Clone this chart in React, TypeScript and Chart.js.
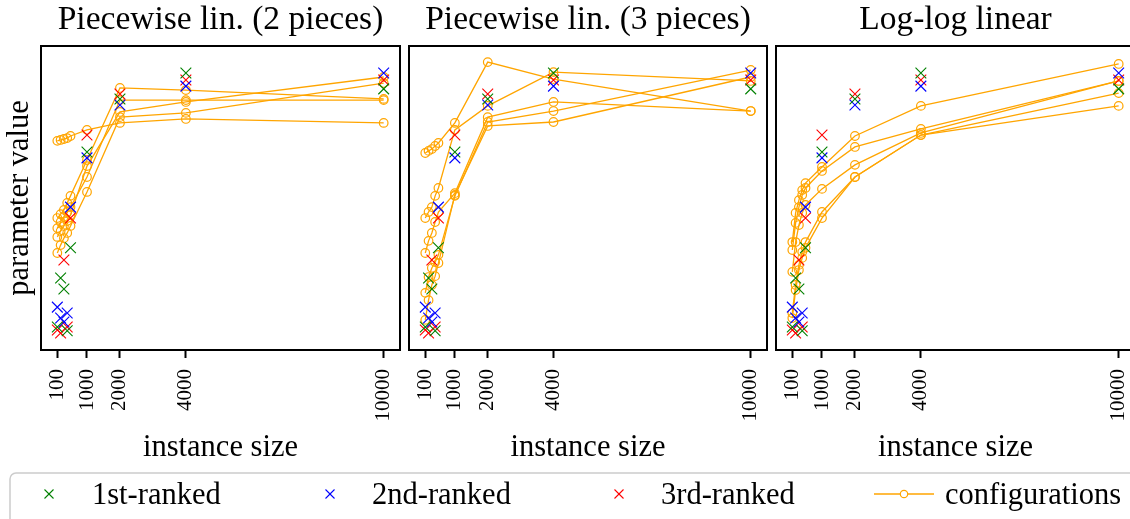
import React, { useEffect, useRef } from "react";
import { Chart, registerables } from "chart.js";

Chart.register(...registerables);

// ---------- data ----------
const instanceSizes = [100, 200, 300, 400, 500, 1000, 2000, 4000, 10000];
const xTickValues = [100, 1000, 2000, 4000, 10000];
const panelTitles = ["Piecewise lin. (2 pieces)", "Piecewise lin. (3 pieces)", "Log-log linear"];

// best configurations found per instance size (same in every panel)
const rank1st = [7.6, 23.7, 20.1, 6.3, 33.6, 65.1, 82.6, 91.1, 85.9];
const rank2nd = [14.1, 10.5, 9.2, 12.2, 47.0, 63.2, 80.6, 86.8, 91.1];
const rank3rd = [6.6, 5.6, 29.6, 7.6, 43.4, 70.7, 84.2, 88.8, 88.8];

// fitted configurations, piecewise linear with 2 pieces
const pw2Lines = [
  [43.4, 44.7, 46.1, 48.4, 50.7, 62.5, 86.2, 85.5, 82.6],
  [37.2, 39.1, 40.8, 42.4, 44.4, 60.5, 78.3, 81.6, 89.8],
  [31.9, 34.5, 36.8, 38.5, 40.8, 52.0, 76.6, 78.0, 87.8],
  [40.1, 42.1, 43.8, 45.4, 47.0, 56.9, 82.2, 82.2, 82.2],
  [68.8, 69.1, 69.4, 69.7, 70.4, 72.4, 74.7, 76.0, 74.7],
];

// fitted configurations, piecewise linear with 3 pieces
const pw3Lines = [
  [64.8, 65.5, 66.1, 67.1, 68.1, 74.7, 94.7, 89.1, 78.6],
  [43.4, 45.4, 47.0, 50.7, 53.3, 72.4, 80.3, 91.4, 88.5],
  [31.9, 35.9, 38.5, 42.1, 45.4, 51.6, 76.6, 81.6, 78.6],
  [18.8, 24.0, 27.0, 28.9, 31.3, 50.7, 75.0, 78.6, 92.1],
  [9.9, 16.4, 21.4, 24.3, 28.6, 51.0, 73.7, 75.0, 89.8],
];

// fitted configurations, log-log linear
const logLines = [
  [35.5, 45.1, 49.3, 52.6, 54.9, 60.2, 70.4, 80.3, 94.1],
  [32.9, 41.8, 47.0, 51.0, 53.3, 58.9, 66.8, 72.7, 88.5],
  [25.7, 35.5, 41.1, 45.1, 47.7, 53.0, 60.9, 71.4, 88.5],
  [12.2, 21.4, 28.0, 32.2, 35.5, 45.4, 56.9, 70.7, 84.5],
  [10.5, 19.7, 26.3, 30.3, 33.6, 43.4, 56.9, 70.7, 80.3],
];

const panelLines = [pw2Lines, pw3Lines, logLines];

// ---------- style ----------
const SERIF = "'Liberation Serif', 'Times New Roman', serif";
const ORANGE = "#FFA500";
const RANK_COLORS = ["#008000", "#0000FF", "#FF0000"];
const RANK_LABELS = ["1st-ranked", "2nd-ranked", "3rd-ranked"];
const rankSeries = [rank1st, rank2nd, rank3rd];
const LABEL_SIZE = 30.5;

const framePlugin = {
  id: "frame",
  afterDraw(chart: any) {
    const { ctx, chartArea: a } = chart;
    ctx.save();
    ctx.strokeStyle = "#000";
    ctx.lineWidth = 2;
    ctx.strokeRect(a.left, a.top, a.right - a.left, a.bottom - a.top);
    ctx.restore();
  },
};

type PanelProps = {
  index: number;
  left: number;
  width: number;
  yWidth: number;
  showYTitle: boolean;
};

function Panel({ index, left, width, yWidth, showYTitle }: PanelProps) {
  const ref = useRef<HTMLCanvasElement>(null);

  useEffect(() => {
    if (!ref.current) return;
    const crossSets = rankSeries.map((vals, r) => ({
      label: RANK_LABELS[r],
      data: instanceSizes.map((x, i) => ({ x, y: vals[i] })),
      showLine: false,
      pointStyle: "crossRot",
      pointRadius: 7.6,
      pointHoverRadius: 7.6,
      pointBorderWidth: 1.1,
      borderColor: RANK_COLORS[r],
      pointBorderColor: RANK_COLORS[r],
      backgroundColor: RANK_COLORS[r],
      order: 0,
    }));
    const lineSets = panelLines[index].map((vals) => ({
      label: "configurations",
      data: instanceSizes.map((x, i) => ({ x, y: vals[i] })),
      showLine: true,
      borderColor: ORANGE,
      borderWidth: 1.3,
      tension: 0,
      pointStyle: "circle",
      pointRadius: 4.3,
      pointHoverRadius: 4.3,
      pointBorderWidth: 1.2,
      pointBorderColor: ORANGE,
      pointBackgroundColor: "rgba(255,255,255,0)",
      order: 1,
    }));

    const chart = new Chart(ref.current, {
      type: "scatter",
      data: { datasets: [...crossSets, ...lineSets] as any },
      options: {
        responsive: false,
        animation: false,
        devicePixelRatio: 1,
        layout: { autoPadding: false, padding: { left: 0, right: 4, top: 0, bottom: 0 } },
        plugins: {
          legend: { display: false },
          tooltip: { enabled: false },
          title: {
            display: true,
            text: panelTitles[index],
            fullSize: false,
            color: "#000",
            font: { family: SERIF, size: 33.5, weight: "normal" },
            padding: { top: 0, bottom: 5.8 },
          },
        },
        scales: {
          x: {
            type: "linear",
            min: -395,
            max: 10495,
            afterBuildTicks: (s: any) => {
              s.ticks = xTickValues.map((v) => ({ value: v }));
            },
            afterFit: (s: any) => {
              s.height = 120;
              s.paddingLeft = 0;
              s.paddingRight = 0;
            },
            ticks: {
              autoSkip: false,
              minRotation: 90,
              maxRotation: 90,
              padding: 11,
              color: "#000",
              font: { family: SERIF, size: 21 },
              callback: (v: any) => String(v),
            },
            grid: {
              display: true,
              drawOnChartArea: false,
              tickLength: 8,
              tickWidth: 2,
              tickColor: "#000",
            },
            border: { display: false },
            title: {
              display: true,
              text: "instance size",
              color: "#000",
              font: { family: SERIF, size: LABEL_SIZE },
              padding: { top: 0, bottom: 4 },
            },
          },
          y: {
            type: "linear",
            min: 0,
            max: 100,
            ticks: { display: false },
            grid: { display: false },
            border: { display: false },
            afterFit: (s: any) => {
              s.width = yWidth;
              s.paddingTop = 0;
              s.paddingBottom = 0;
            },
            title: {
              display: showYTitle,
              text: "parameter value",
              color: "#000",
              font: { family: SERIF, size: LABEL_SIZE },
              padding: { top: 2, bottom: 0 },
            },
          },
        },
      } as any,
      plugins: [framePlugin],
    });
    return () => chart.destroy();
  }, [index, yWidth, showYTitle]);

  return (
    <canvas
      ref={ref}
      width={width}
      height={470}
      style={{ position: "absolute", left, top: 0, width, height: 470 }}
    />
  );
}

function Legend() {
  const cross = (cx: number, color: string) => (
    <g stroke={color} strokeWidth={1.1}>
      <line x1={cx - 4.5} y1={494 - 4.5} x2={cx + 4.5} y2={494 + 4.5} />
      <line x1={cx + 4.5} y1={494 - 4.5} x2={cx - 4.5} y2={494 + 4.5} />
    </g>
  );
  const textStyle = { fontFamily: SERIF, fontSize: LABEL_SIZE, fill: "#000" } as any;
  return (
    <svg
      width={1130}
      height={519}
      style={{ position: "absolute", left: 0, top: 0, pointerEvents: "none" }}
    >
      <rect x={10} y={473} width={1200} height={90} rx={6} ry={6} fill="#fff" stroke="#cccccc" strokeWidth={1.5} />
      {cross(49, RANK_COLORS[0])}
      <text x={92} y={504} style={textStyle}>{RANK_LABELS[0]}</text>
      {cross(330, RANK_COLORS[1])}
      <text x={372} y={504} style={textStyle}>{RANK_LABELS[1]}</text>
      {cross(619, RANK_COLORS[2])}
      <text x={661} y={504} style={textStyle}>{RANK_LABELS[2]}</text>
      <line x1={874} y1={494} x2={934} y2={494} stroke={ORANGE} strokeWidth={1.3} />
      <circle cx={904} cy={494} r={3.7} fill="#fff" stroke={ORANGE} strokeWidth={1.2} />
      <text x={945} y={504} style={textStyle}>configurations</text>
    </svg>
  );
}

export default function App() {
  return (
    <div
      style={{
        position: "absolute",
        left: 0,
        top: 0,
        width: 1130,
        height: 519,
        overflow: "hidden",
        background: "#fff",
      }}
    >
      <Panel index={0} left={0} width={404} yWidth={41} showYTitle={true} />
      <Panel index={1} left={404} width={367} yWidth={5} showYTitle={false} />
      <Panel index={2} left={771} width={368} yWidth={5} showYTitle={false} />
      <Legend />
    </div>
  );
}
